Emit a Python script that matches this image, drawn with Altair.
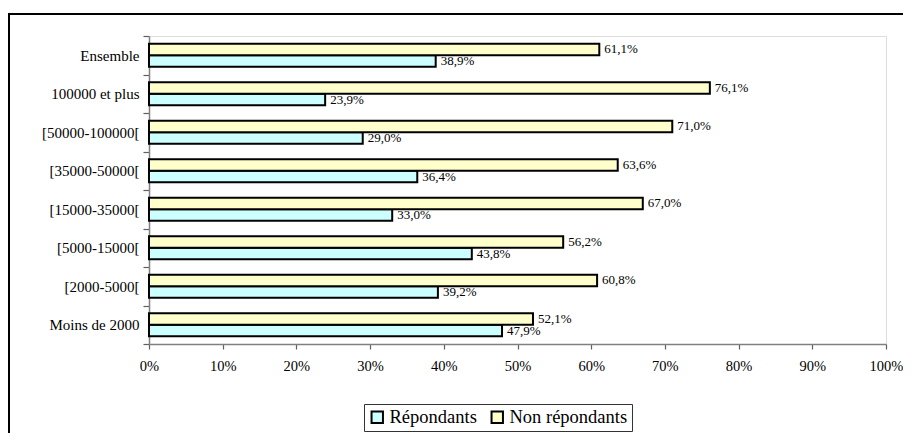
import altair as alt
import pandas as pd

categories = ["Ensemble", "100000 et plus", "[50000-100000[", "[35000-50000[",
              "[15000-35000[", "[5000-15000[", "[2000-5000[", "Moins de 2000"]
repondants = [38.9, 23.9, 29.0, 36.4, 33.0, 43.8, 39.2, 47.9]
non_repondants = [61.1, 76.1, 71.0, 63.6, 67.0, 56.2, 60.8, 52.1]
series = ["Répondants", "Non répondants"]
colors = ["#CCFFFF", "#FFFFCC"]
x_ticks = [0, 10, 20, 30, 40, 50, 60, 70, 80, 90, 100]

rows = []
for c, r, n in zip(categories, repondants, non_repondants):
    rows.append({"cat": c, "serie": series[0], "val": r})
    rows.append({"cat": c, "serie": series[1], "val": n})
df = pd.DataFrame(rows)
df["label"] = df["val"].map(lambda v: f"{v:.1f}".replace(".", ",") + "%")

FONT = "Liberation Serif"

y_enc = alt.Y("cat:N", sort=categories,
              scale=alt.Scale(paddingInner=0, paddingOuter=0),
              axis=alt.Axis(title=None, tickBand="extent", labelFont=FONT,
                            labelFontSize=15, labelColor="black", tickSize=6,
                            labelPadding=4, domainColor="#808080", domainWidth=1.5,
                            tickColor="#606060", tickWidth=1.2))
x_enc = alt.X("val:Q", scale=alt.Scale(domain=[0, 100], nice=False),
              axis=alt.Axis(title=None, values=x_ticks, labelExpr="datum.value + '%'",
                            labelFont=FONT, labelFontSize=14.5, labelColor="black",
                            labelFlush=False, labelOverlap=False,
                            tickSize=5, labelPadding=10, domainColor="#808080",
                            domainWidth=1.5, tickColor="#606060", tickWidth=1.2,
                            grid=False))
yoff = alt.YOffset("serie:N", sort=[series[1], series[0]],
                   scale=alt.Scale(paddingInner=0, paddingOuter=0.667))

base = alt.Chart(df)

border = alt.Chart(pd.DataFrame({"a": [0]})).mark_rect(
    filled=False, stroke="black", strokeWidth=2
).encode(x=alt.value(-140), x2=alt.value(1200), y=alt.value(-22), y2=alt.value(1200))

bars = base.mark_bar(stroke="black", strokeWidth=2).encode(
    x=x_enc, y=y_enc, yOffset=yoff,
    color=alt.Color("serie:N", scale=alt.Scale(domain=series, range=colors),
                    legend=alt.Legend(orient="none", legendX=215, legendY=368,
                                      direction="horizontal", title=None,
                                      symbolType="square", symbolSize=130,
                                      symbolStrokeColor="black", symbolStrokeWidth=2,
                                      symbolOpacity=1,
                                      labelFont=FONT, labelFontSize=18.5, labelColor="black",
                                      strokeColor="#333333", fillColor="white",
                                      padding=4, columnPadding=10, labelOffset=3))
)

labels = base.mark_text(align="left", baseline="middle", dx=5, font=FONT,
                        fontSize=13, color="black").encode(
    x="val:Q", y=alt.Y("cat:N", sort=categories), yOffset=yoff, text="label:N"
)

chart = alt.layer(border, bars, labels).properties(
    width=737, height=308,
    autosize=alt.AutoSizeParams(type="none"),
    padding={"left": 141, "top": 28, "right": 17, "bottom": 89},
).configure_view(stroke=None).configure(background="white")

chart.save("out.html", embed_options={"renderer": "svg", "actions": False})
